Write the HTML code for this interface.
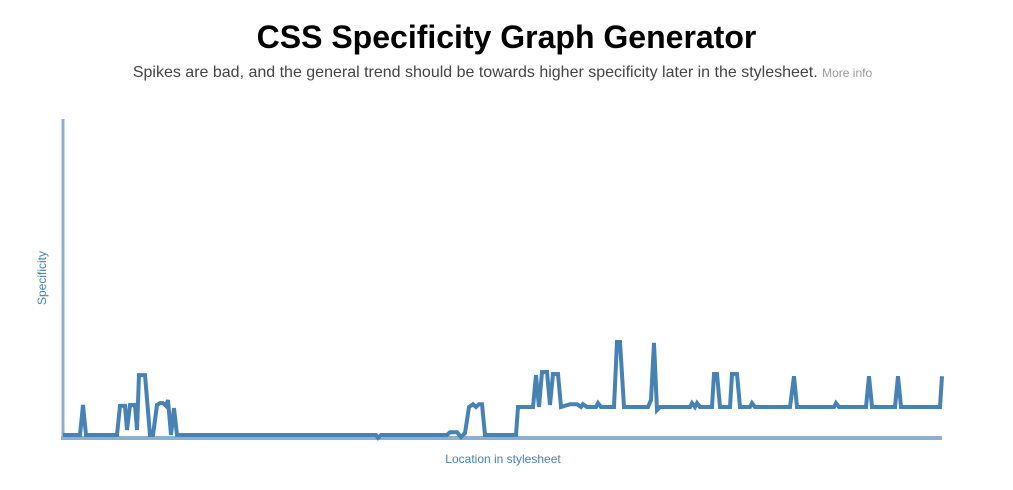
<!DOCTYPE html>
<html><head><meta charset="utf-8"><style>
body{margin:0;width:1013px;height:490px;background:#fff;font-family:"Liberation Sans",Arial,sans-serif;overflow:hidden}
h1{position:absolute;top:19px;left:0;width:1013px;margin:0;text-align:center;font-size:32px;font-weight:bold;color:#000}
p{position:absolute;top:64px;left:-4px;width:1013px;margin:0;text-align:center;font-size:16px;color:#444}
p a{font-size:12px;color:#999;text-decoration:none}
</style></head><body>
<h1>CSS Specificity Graph Generator</h1>
<p>Spikes are bad, and the general trend should be towards higher specificity later in the stylesheet. <a href="#">More info</a></p>
<svg id="chart" width="1013" height="490" style="position:absolute;left:0;top:0"></svg>
<script>
const locations=[0,17,20,23,54,57,62,64,67,72,74,76,82,87,90,94,97,100,103,105,108,111,114,313,315,318,384,387,394,398,402,406,410,413,416,419,422,453,455,470,473,476,479,484,487,490,495,498,507,514,518,520,524,533,535,538,551,554,557,561,585,588,591,594,597,627,629,632,634,637,649,651,654,657,667,669,674,677,687,689,692,727,731,734,771,773,776,803,806,809,832,835,838,877,879];
const values=[0,0,10.7,0,0,10.4,10.4,1.8,10.7,10.7,1.8,21.4,21.4,0,0,10.7,11.4,11.4,10.4,12.5,0,9.6,0,0,-1,0,0,1,1,-0.7,0.7,10,11,10,11,11,0,0,10,10,21.4,10,22.5,22.5,10.7,21.8,21.8,10,11,11,10,11,10,10,11.4,10,10,33.2,33.2,10,10,12.5,32.9,8.9,10,10,11.4,10,11.4,10,10,21.8,21.8,10,10,21.8,21.8,10,10,11.4,10,10,21,10,10,11.4,10,10,21,10,10,21,10,10,21];
const yMax=112.5;const xMax=879;
const NS="http://www.w3.org/2000/svg";
const svg=document.getElementById('chart');
const X0=63,X1=942,Y0=435,Y1=120;
const xs=v=>X0+v/xMax*(X1-X0);
const ys=v=>Y0-v/yMax*(Y0-Y1);
function mk(t,a){const e=document.createElementNS(NS,t);for(const k in a)e.setAttribute(k,a[k]);svg.appendChild(e);return e;}
let ya=mk('line',{x1:63,y1:119,x2:63,y2:439,stroke:'#8eb0d0','stroke-width':3});


let xa=mk('line',{x1:61,y1:438,x2:942,y2:438,stroke:'#8eb0d0','stroke-width':4});


let pts=locations.map((l,i)=>xs(l).toFixed(1)+','+ys(values[i]).toFixed(1)).join(' ');
let pl=mk('polyline',{points:pts,fill:'none',stroke:'#4682b4','stroke-width':4,'stroke-linejoin':'miter'});


let xt=mk('text',{x:503,y:463,'text-anchor':'middle','font-size':12,fill:'#4682b4','font-family':'Liberation Sans, sans-serif'});
xt.textContent='Location in stylesheet';


let yt=mk('text',{x:0,y:0,transform:'translate(46,278) rotate(-90)','text-anchor':'middle','font-size':12,fill:'#4682b4','font-family':'Liberation Sans, sans-serif'});
yt.textContent='Specificity';


</script>
</body></html>
